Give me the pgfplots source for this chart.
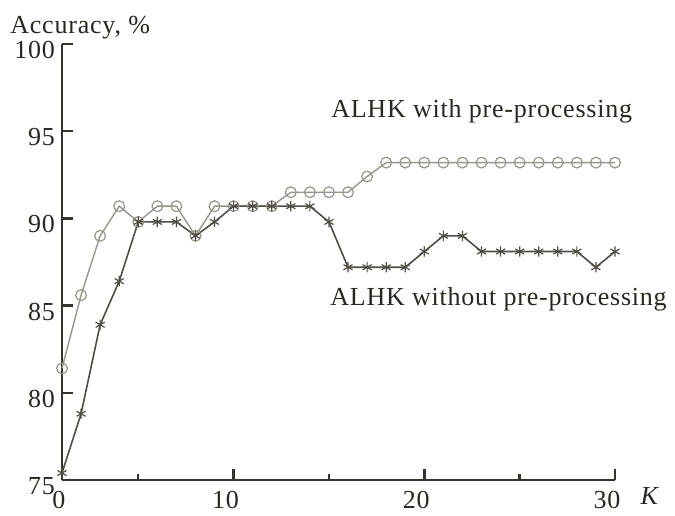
\documentclass[border=0pt]{standalone}
\usepackage{fontspec}
\setmainfont[LetterSpace=3]{Liberation Serif}
\usepackage{pgfplots}
\pgfplotsset{compat=1.18}
\definecolor{axiscol}{RGB}{52,52,44}
\definecolor{txtcol}{RGB}{40,40,34}
\definecolor{withcol}{RGB}{150,150,140}
\definecolor{wocol}{RGB}{78,78,68}
\begin{document}
\begin{tikzpicture}
\useasboundingbox (-31pt,-17.5pt) rectangle (306.5pt,240pt);
\begin{axis}[
  scale only axis, width=276.5pt, height=218pt,
  xmin=1, xmax=30, ymin=75, ymax=100,
  axis lines=left,
  axis line style={-, line width=1.4pt, color=axiscol},
  xtick={1,10,20,30}, xticklabels={\hspace*{5pt}0,10,20,30},
  minor xtick={5,15,25},
  ytick={75,80,85,90,95,100},
  tick align=inside,
  major tick length=5.5pt, minor tick length=3.2pt,
  every tick/.style={line width=1.2pt, color=axiscol},
  /pgf/number format/assume math mode=true,
  tick label style={font=\fontsize{13}{15}\selectfont, text=txtcol},
  xticklabel style={yshift=-2.2pt, xshift=-4pt},
  yticklabel style={yshift=-3pt, xshift=0pt},
  clip=false,
]
\addplot[color=withcol, line width=0.7pt, mark=o, mark size=2.7pt, mark options={line width=0.6pt}]
coordinates {
(1,81.4)(2,85.6)(3,89.0)(4,90.7)(5,89.8)(6,90.7)(7,90.7)(8,89.0)(9,90.7)(10,90.7)
(11,90.7)(12,90.7)(13,91.5)(14,91.5)(15,91.5)(16,91.5)(17,92.4)(18,93.2)(19,93.2)(20,93.2)
(21,93.2)(22,93.2)(23,93.2)(24,93.2)(25,93.2)(26,93.2)(27,93.2)(28,93.2)(29,93.2)(30,93.2)
};
\addplot[color=wocol, line width=0.8pt, mark=asterisk, mark size=2.6pt, mark options={line width=0.6pt}]
coordinates {
(1,75.4)(2,78.8)(3,83.9)(4,86.4)(5,89.8)(6,89.8)(7,89.8)(8,89.0)(9,89.8)(10,90.7)
(11,90.7)(12,90.7)(13,90.7)(14,90.7)(15,89.8)(16,87.2)(17,87.2)(18,87.2)(19,87.2)(20,88.1)
(21,89.0)(22,89.0)(23,88.1)(24,88.1)(25,88.1)(26,88.1)(27,88.1)(28,88.1)(29,87.2)(30,88.1)
};
\node[anchor=base west, inner sep=0pt, text=txtcol, font=\fontsize{13}{15}\selectfont] at (axis cs:15.1,95.8) {ALHK with pre-processing};
\node[anchor=base west, inner sep=0pt, text=txtcol, font=\fontsize{13}{15}\selectfont] at (axis cs:15.05,85.0) {ALHK without pre-processing};
\node[anchor=base west, inner sep=0pt, text=txtcol, font=\fontsize{13}{15}\selectfont] at (rel axis cs:0,1) [xshift=-26pt, yshift=5.5pt] {Accuracy, \%};
\node[anchor=base, inner sep=0pt, text=txtcol, font=\fontsize{13}{15}\selectfont\itshape] at (axis cs:31.8,73.6) {K};
\end{axis}
\end{tikzpicture}
\end{document}
